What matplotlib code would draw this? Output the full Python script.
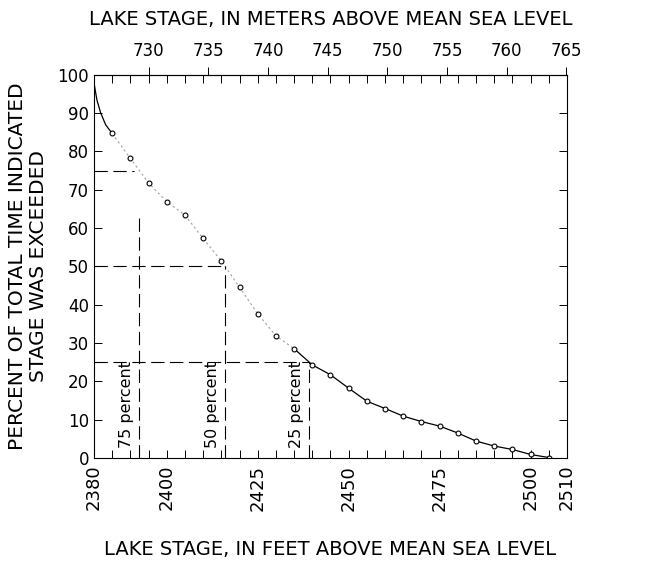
import numpy as np
import matplotlib.pyplot as plt
from matplotlib.ticker import MultipleLocator

# Lake stage (ft) and percent of time exceeded
stage_ft = [2385, 2390, 2395, 2400, 2405, 2410, 2415, 2420, 2425, 2430, 2435,
            2440, 2445, 2450, 2455, 2460, 2465, 2470, 2475, 2480, 2485, 2490,
            2495, 2500, 2505]
pct_exceeded = [84.7, 78.2, 71.8, 66.9, 63.4, 57.3, 51.4, 44.6, 37.6, 31.9, 28.5,
                24.3, 21.7, 18.2, 14.8, 12.9, 10.9, 9.5, 8.3, 6.5, 4.4, 3.1,
                2.2, 0.9, 0.1]

# start of the curve, above the first plotted point
curve_top_ft = [2380, 2380.8, 2381.8, 2383.2, 2385]
curve_top_pct = [98.0, 93.5, 90.2, 87.0, 84.7]

# duration marks: percent, stage where the curve reaches it, top of vertical dash
marks_pct = [75, 50, 25]
marks_ft = [2392.3, 2416.0, 2439.0]
marks_hend = [2391.0, 2416.0, 2439.0]
marks_vtop = [63.0, 50.0, 25.0]
marks_text = ['75 percent', '50 percent', '25 percent']

x_ticks = [2380, 2400, 2425, 2450, 2475, 2500, 2510]
m_ticks = [730, 735, 740, 745, 750, 755, 760, 765]

plt.rcParams['font.family'] = 'DejaVu Sans'

fig = plt.figure(figsize=(6.48, 5.76), dpi=100)
ax = fig.add_axes([0.145, 0.205, 0.73, 0.665])

# the curve: solid at the ends, faint in the middle like the scan
ax.plot(curve_top_ft, curve_top_pct, color='black', lw=0.9)
ax.plot(stage_ft[:11], pct_exceeded[:11], color='#a0a0a0', lw=0.8, ls=(0, (2, 2.5)))
ax.plot(stage_ft[10:], pct_exceeded[10:], color='black', lw=0.9)
ax.plot(stage_ft, pct_exceeded, ls='none', marker='o', ms=3.5,
        mfc='white', mec='black', mew=0.8)

for p, xf, xh, vt, t in zip(marks_pct, marks_ft, marks_hend, marks_vtop, marks_text):
    ax.plot([2380, xh], [p, p], color='black', lw=0.8, dashes=(12, 5))
    ax.plot([xf, xf], [0, vt], color='black', lw=0.8, dashes=(12, 5))
    ax.text(xf - 1.3, 2.5, t, rotation=90, ha='right', va='bottom', fontsize=11.5)

ax.set_xlim(2380, 2510)
ax.set_ylim(0, 100)
ax.set_xticks(x_ticks)
ax.xaxis.set_minor_locator(MultipleLocator(5))
ax.set_yticks(np.arange(0, 101, 10))
ax.tick_params(axis='x', which='both', direction='in', top=True, length=6, width=0.7)
ax.tick_params(axis='x', which='major', labelsize=13, labelrotation=90, pad=5)
ax.tick_params(axis='y', which='both', direction='in', right=True, length=6,
               width=0.7, labelsize=12)
for s in ax.spines.values():
    s.set_linewidth(0.8)

ax.set_xlabel('LAKE STAGE, IN FEET ABOVE MEAN SEA LEVEL', fontsize=14, labelpad=21)
ax.set_ylabel('PERCENT OF TOTAL TIME INDICATED\nSTAGE WAS EXCEEDED', fontsize=14.5,
              labelpad=7, linespacing=1.1)

sec = ax.secondary_xaxis('top', functions=(lambda f: f * 0.3048, lambda m: m / 0.3048))
sec.set_xticks(m_ticks)
sec.tick_params(direction='out', length=6, width=0.7, labelsize=12, pad=5)
sec.set_xlabel('LAKE STAGE, IN METERS ABOVE MEAN SEA LEVEL', fontsize=14, labelpad=12)

fig.savefig('out.png', dpi=100)
